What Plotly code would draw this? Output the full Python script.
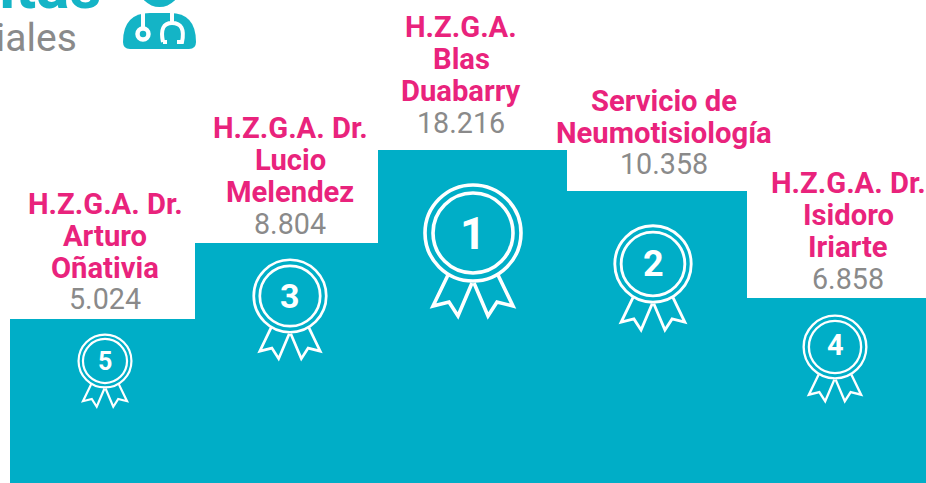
import plotly.graph_objects as go

# --- data ---
hospital_lines = [
    ["H.Z.G.A. Dr.", "Arturo", "Oñativia"],
    ["H.Z.G.A. Dr.", "Lucio", "Melendez"],
    ["H.Z.G.A.", "Blas", "Duabarry"],
    ["Servicio de", "Neumotisiología"],
    ["H.Z.G.A. Dr.", "Isidoro", "Iriarte"],
]
consultas = [5024, 8804, 18216, 10358, 6858]
ranks = [5, 3, 1, 2, 4]
podium_heights = [164, 240, 333, 292, 185]  # step heights as drawn (not proportional)

# --- layout constants (px) ---
W, H = 926, 483
edges = [10, 195, 378, 567, 747, 926]
text_cx = [105, 290, 461, 664, 848]
value_cy = [299.5, 223.5, 122.5, 164.5, 278.5]
medal_cx = [105, 290, 473, 653, 835]
medal_cy = [361, 296, 233, 264, 347]
medal_r = [27, 37, 49, 39, 32]
num_dx = [0, 0, -0.5, 0, 0]
num_dy = [0, 0, 0, 0, -2]
TEAL = "#00AEC7"
ICON = "#14B4C6"
PINK = "#E9237C"
GREY = "#8A8A8A"
FONT = "Roboto"
LINE = 32

Y = lambda py: H - py
centers = [(edges[i] + edges[i + 1]) / 2 for i in range(5)]
widths = [edges[i + 1] - edges[i] for i in range(5)]

fig = go.Figure(go.Bar(x=centers, y=podium_heights, width=widths,
                       marker=dict(color=TEAL, line=dict(width=0)),
                       customdata=consultas, hoverinfo="skip"))

ann = []
def text(x, py, s, color, size, bold=False, xanchor="center"):
    ann.append(dict(x=x / W, y=Y(py) / H, xref="paper", yref="paper",
                    text=f"<b>{s}</b>" if bold else s,
                    showarrow=False, xanchor=xanchor, yanchor="middle",
                    font=dict(family=FONT, size=size, color=color)))

fmt = lambda v: f"{v:,}".replace(",", ".")
for i, lines in enumerate(hospital_lines):
    text(text_cx[i], value_cy[i], fmt(consultas[i]), GREY, 28.7)
    n = len(lines)
    for j, l in enumerate(lines):
        text(text_cx[i], value_cy[i] + 0.5 - (n - j) * LINE, l, PINK, 29.2, bold=True)

shapes = []
def medal(cx, cy, r):
    s = r / 49
    lw = max(2.2, 3.6 * s)
    def ring(rr):
        shapes.append(dict(type="circle", xref="x", yref="y", x0=cx - rr, x1=cx + rr,
                           y0=Y(cy + rr), y1=Y(cy - rr),
                           line=dict(color="white", width=lw), fillcolor="rgba(0,0,0,0)"))
    ring(48 * s)
    ring(40 * s)
    for m in (-1, 1):
        pts = [(25, 42), (40, 73), (24, 69), (15, 83), (1, 50)]
        d = "M" + " L".join(f"{cx + m * px * s:.2f},{Y(cy + py * s):.2f}" for px, py in pts)
        shapes.append(dict(type="path", xref="x", yref="y", path=d,
                           line=dict(color="white", width=lw)))

for i in range(5):
    medal(medal_cx[i], medal_cy[i], medal_r[i])
    text(medal_cx[i] + num_dx[i], medal_cy[i] + num_dy[i], str(ranks[i]), "white",
         round(medal_r[i] * 0.92), bold=True)

# header fragment: clipped by the page edge
text(103, -13, "Consultas", ICON, 62, bold=True, xanchor="right")
text(79, 38, "especiales", GREY, 39, xanchor="right")

# doctor icon
shapes.append(dict(type="circle", xref="x", yref="y", x0=138.5, x1=180.5, y0=Y(7), y1=Y(-35),
                   fillcolor=ICON, line=dict(width=0)))
body = f"M123,{Y(42)} Q123,{Y(13)} 150,{Y(13)} L170,{Y(13)} Q196,{Y(13)} 196,{Y(42)} Q196,{Y(49)} 189,{Y(49)} L130,{Y(49)} Q123,{Y(49)} 123,{Y(42)} Z"
shapes.append(dict(type="path", xref="x", yref="y", path=body, fillcolor=ICON, line=dict(width=0)))
shapes.append(dict(type="path", xref="x", yref="y", path=f"M143,{Y(12)} L143,{Y(28)}",
                   line=dict(color="white", width=4)))
shapes.append(dict(type="circle", xref="x", yref="y", x0=137.5, x1=148.5, y0=Y(39.5), y1=Y(28.5),
                   line=dict(color="white", width=4.5), fillcolor=ICON))
shapes.append(dict(type="path", xref="x", yref="y",
                   path=f"M172,{Y(12)} L172,{Y(23)} M163,{Y(42)} Q159,{Y(23)} 172,{Y(23)} Q186,{Y(23)} 182,{Y(42)} L177,{Y(42)} M163,{Y(42)} L167,{Y(42)}",
                   line=dict(color="white", width=4)))

fig.update_layout(
    width=W, height=H, margin=dict(l=0, r=0, t=0, b=0), showlegend=False,
    paper_bgcolor="white", plot_bgcolor="white", annotations=ann, shapes=shapes,
    xaxis=dict(range=[0, W], visible=False, fixedrange=True),
    yaxis=dict(range=[0, H], visible=False, fixedrange=True),
)
fig.write_html("out.html", config={"displayModeBar": False},
               post_script="document.body.style.margin='0';document.body.style.overflow='hidden';")
